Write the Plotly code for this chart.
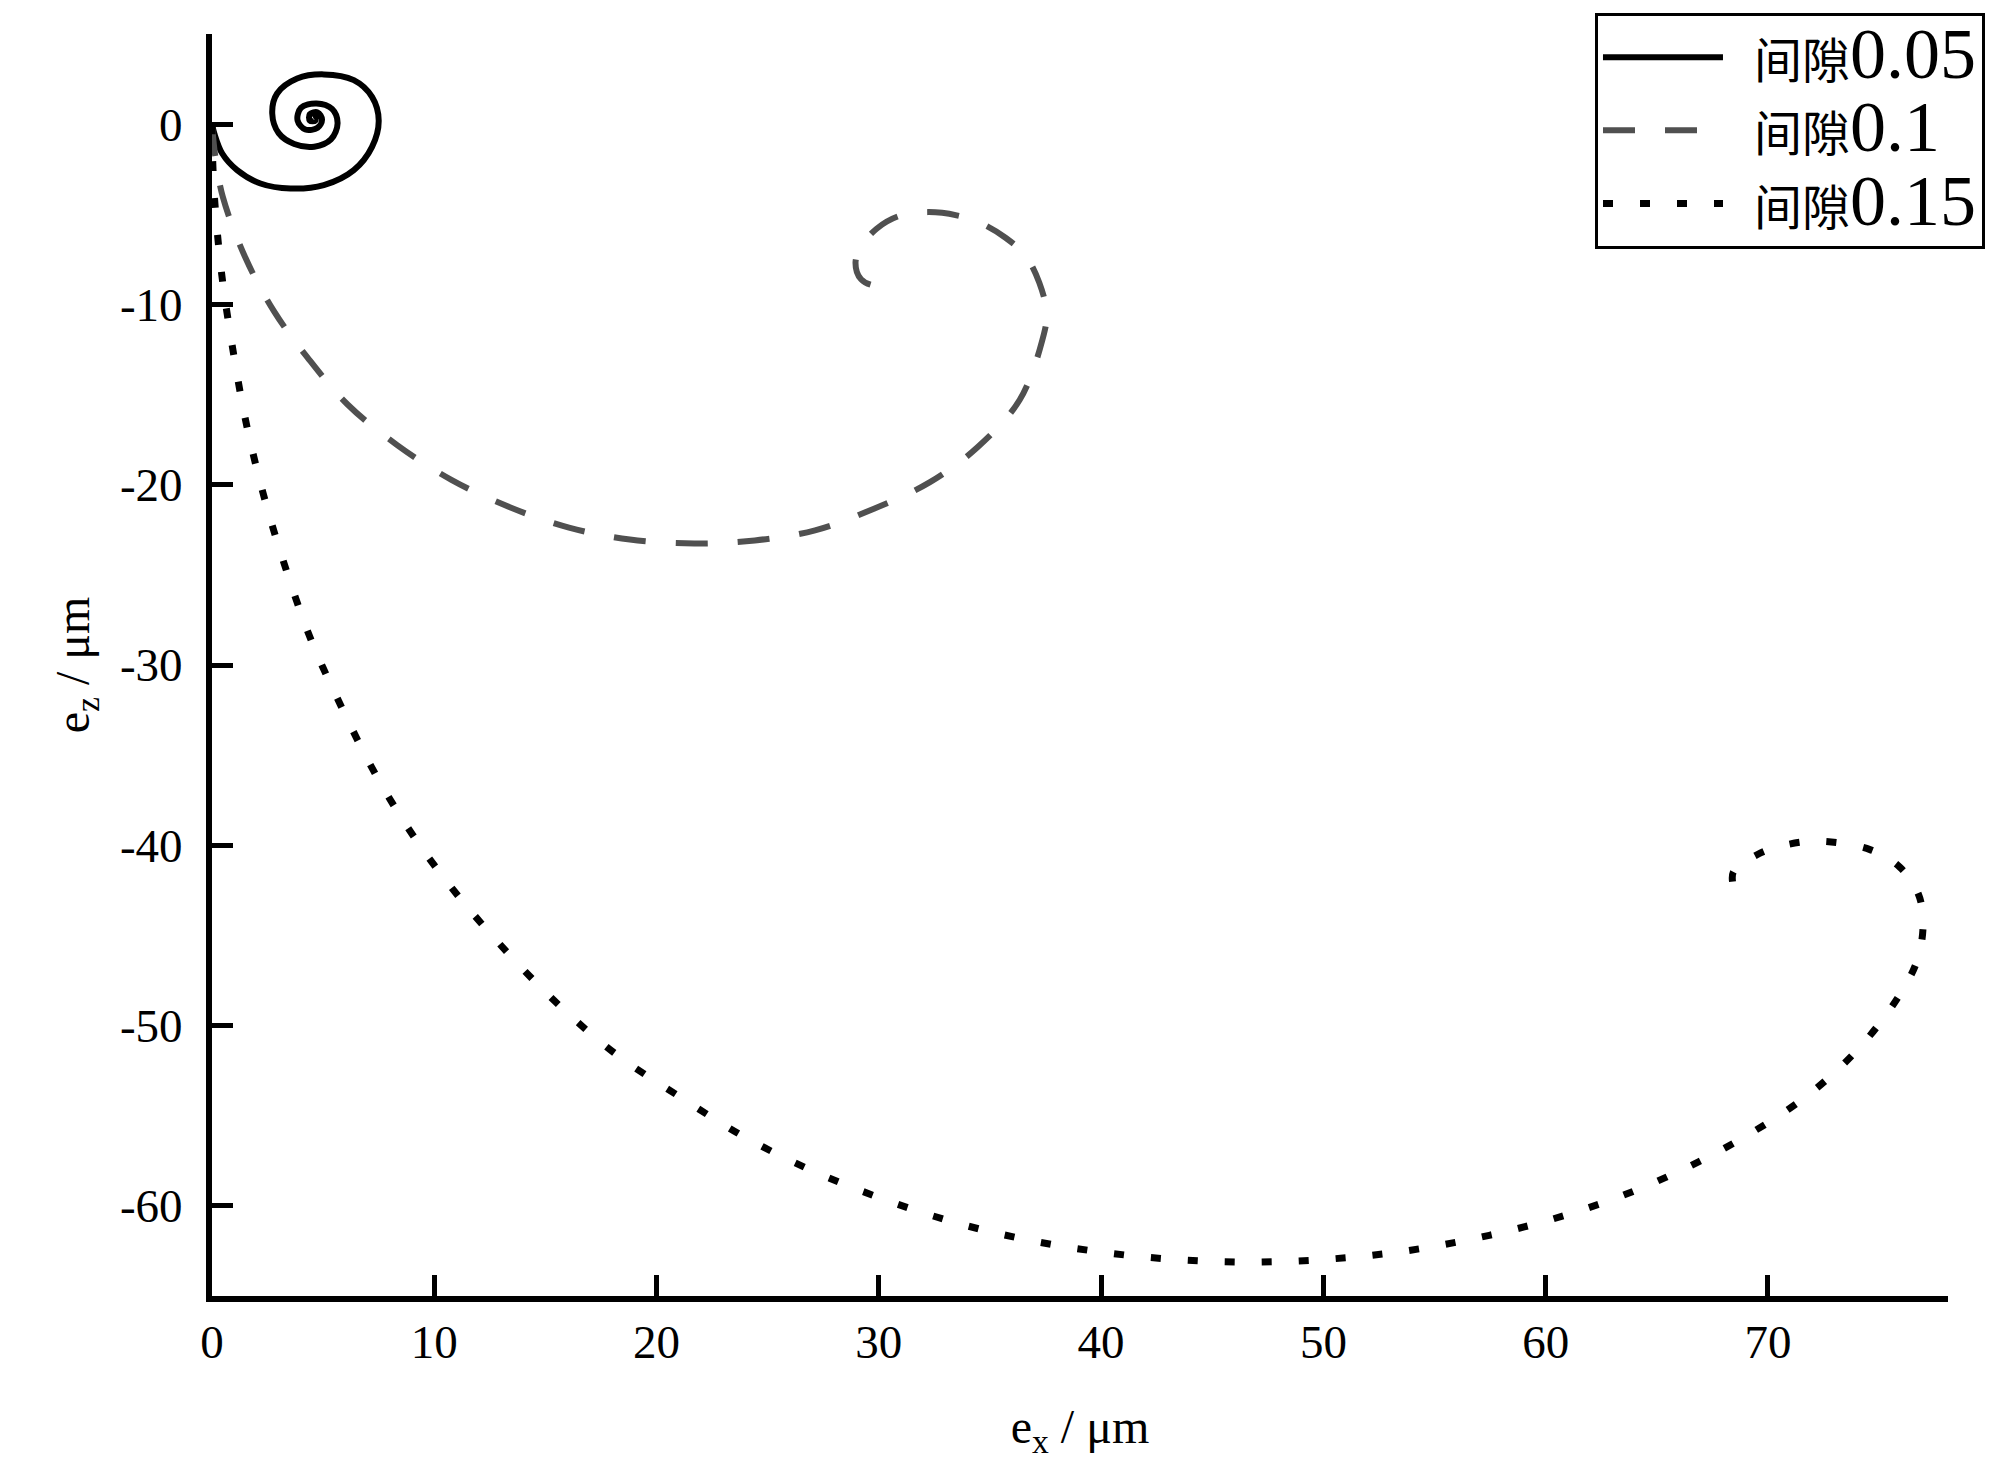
import plotly.graph_objects as go

# ---------------------------------------------------------------------------
# Data, units: micrometres
# ---------------------------------------------------------------------------

GAP_005_X = [0, 0.1, 0.46, 1.13, 2.18, 3.53, 5.03, 6.38, 7.2, 7.5, 7.2, 6.38, 5.03, 3.83,
             2.93, 2.71, 3.0, 3.7, 4.6, 5.35, 5.65, 5.4, 4.7, 4.0, 3.85, 4.2, 4.75, 4.95,
             4.75, 4.4, 4.4, 4.65, 4.65, 4.55]
GAP_005_Y = [0, -0.5, -1.63, -2.55, -3.29, -3.57, -3.38, -2.55, -1.26, 0.2, 1.51, 2.44, 2.76, 2.53,
             1.7, 0.59, -0.5, -1.1, -1.25, -0.85, 0.05, 0.85, 1.15, 0.9, 0.2, -0.3, -0.2, 0.25,
             0.65, 0.55, 0.2, 0.2, 0.4, 0.35]

GAP_01_X = [0, 0.15, 0.49, 1.5, 2.8, 4.3, 6.1, 8.33, 10.77, 13.4, 16.06, 18.8, 21.7, 24.42,
            27.13, 29.78, 32.3, 34.45, 36.34, 37.35, 37.55, 37.22, 36.6, 35.7, 34.6, 33.5,
            32.2, 30.9, 29.9, 29.2, 28.95, 29.2, 29.9, 30.35, 30.35]
GAP_01_Y = [0, -1.8, -4.05, -7.4, -10.4, -12.95, -15.55, -17.8, -19.73, -21.25, -22.38, -23.04,
            -23.26, -23.09, -22.53, -21.33, -19.86, -17.91, -15.29, -12.0, -10.5, -8.8, -7.3,
            -6.3, -5.5, -5.06, -4.88, -5.1, -5.8, -6.8, -7.7, -8.6, -8.95, -8.5, -8.05]

GAP_015_X = [0, 0.03, 0.13, 0.45, 0.98, 1.57, 2.38, 3.34, 4.46, 5.83, 7.35, 9.12, 11.05, 13.3,
             15.63, 18.2, 21.01, 23.96, 27.04, 30.15, 33.36, 36.62, 39.98, 43.38, 46.71, 50.07,
             53.36, 56.69, 59.95, 63.09, 66.09, 68.98, 71.88, 74.3, 76.11, 76.76, 76.98, 76.76,
             75.93, 74.59, 72.24, 70.69, 69.53, 68.44, 68.52]
GAP_015_Y = [0, -2.0, -4.39, -8.46, -12.81, -16.77, -20.84, -24.73, -28.62, -32.34, -36.05, -39.59,
             -42.77, -45.96, -48.89, -51.61, -53.92, -56.18, -58.07, -59.6, -60.9, -61.87, -62.56,
             -62.98, -63.12, -62.97, -62.56, -61.84, -60.86, -59.6, -58.03, -56.15, -53.78, -50.97,
             -47.92, -46.2, -44.26, -42.68, -41.21, -40.24, -39.77, -40.01, -40.51, -41.49, -42.63]

X_TICKS = [0, 10, 20, 30, 40, 50, 60, 70]
Y_TICKS = [0, -10, -20, -30, -40, -50, -60]
Y_TICK_TEXT = ["0", "-10", "-20", "-30", "-40", "-50", "-60"]

SERIES = [
    ("0.05", GAP_005_X, GAP_005_Y, "#000000", "solid", 6),
    ("0.1", GAP_01_X, GAP_01_Y, "#505050", "32px,30px", 6),
    ("0.15", GAP_015_X, GAP_015_Y, "#000000", "10px,27px", 7),
]

FONT = "Liberation Serif, Times New Roman, Noto Sans CJK SC, serif"


def legend_label(gap):
    return ("<span style='font-size:26px'>\u2003</span>"
            "<span style='font-size:48px'>间隙</span>"
            "<span style='font-size:72px'>" + gap + "</span>")


fig = go.Figure()

for gap, xs, ys, color, dash, width in SERIES:
    fig.add_trace(
        go.Scatter(
            x=xs,
            y=ys,
            mode="lines",
            name=legend_label(gap),
            line=dict(color=color, width=width, dash=dash, shape="spline"),
        )
    )

axis_common = dict(
    showline=True,
    linecolor="black",
    linewidth=6,
    ticks="inside",
    ticklen=21,
    tickwidth=5,
    tickcolor="black",
    showgrid=False,
    zeroline=False,
    tickfont=dict(family=FONT, size=47, color="black"),
)

# the page body has an 8px margin, so the plot area is shifted up/left by that
fig.update_layout(
    width=2000,
    height=1474,
    autosize=False,
    paper_bgcolor="white",
    plot_bgcolor="white",
    font=dict(family=FONT, color="black"),
    margin=dict(l=204, r=60, t=26, b=186, autoexpand=False),
    xaxis=dict(
        range=[0, 78.1],
        tickvals=X_TICKS,
        title=dict(text="e<sub>x</sub> / μm", font=dict(family=FONT, size=48), standoff=44),
        **axis_common,
    ),
    yaxis=dict(
        range=[-65, 5],
        tickvals=Y_TICKS,
        ticktext=Y_TICK_TEXT,
        ticklabelstandoff=14,
        title=dict(text="e<sub>z</sub> / μm", font=dict(family=FONT, size=48), standoff=17),
        **axis_common,
    ),
    legend=dict(
        x=1.0213,
        y=1.017,
        xanchor="right",
        yanchor="top",
        bgcolor="white",
        bordercolor="black",
        borderwidth=3,
        itemwidth=120,
        font=dict(family=FONT, size=54, color="black"),
        tracegroupgap=0,
    ),
    showlegend=True,
)

fig.write_html("out.html")
